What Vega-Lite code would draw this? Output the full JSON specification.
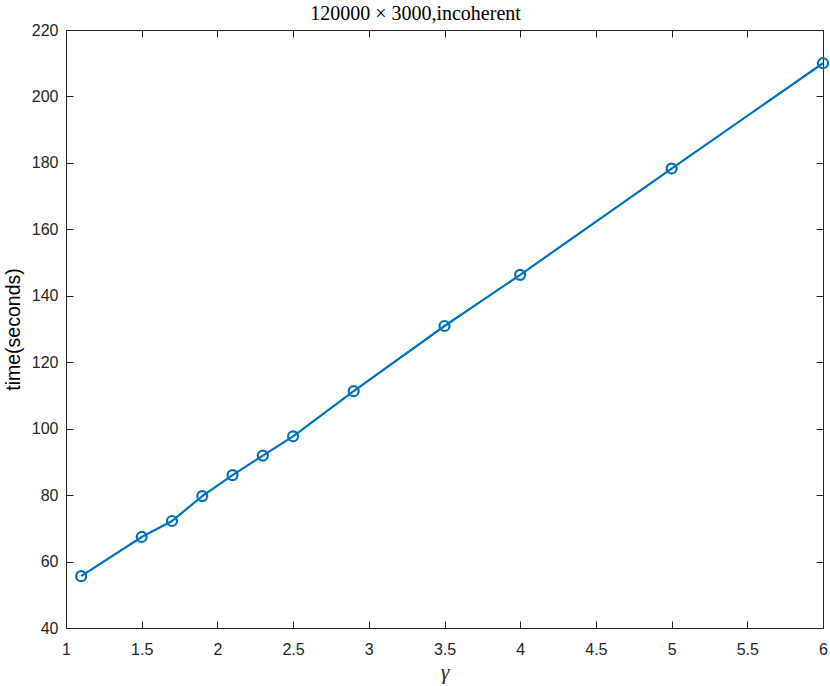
{
  "$schema": "https://vega.github.io/schema/vega-lite/v6.json",
  "width": 757,
  "height": 598,
  "autosize": {"type": "none"},
  "padding": {"left": 66, "top": 30, "right": 7, "bottom": 58},
  "background": "white",
  "title": {"text": "120000 × 3000,incoherent", "font": "Liberation Serif", "fontSize": 20, "fontWeight": "normal", "color": "#000000", "offset": -2, "anchor": "middle", "dx": -29},
  "config": {
    "view": {"stroke": "#262626", "strokeWidth": 1},
    "axis": {"grid": false, "domainColor": "#262626", "tickColor": "#262626", "labelColor": "#262626", "labelFont": "Liberation Sans", "labelFontSize": 16, "tickSize": -7, "domain": true, "labelFlush": false, "labelExpr": "datum.value + ''"}
  },
  "data": {"values": [
    {"g": 1.1, "t": 55.6},
    {"g": 1.5, "t": 67.4},
    {"g": 1.7, "t": 72.2},
    {"g": 1.9, "t": 79.7},
    {"g": 2.1, "t": 86.0},
    {"g": 2.3, "t": 91.9},
    {"g": 2.5, "t": 97.7},
    {"g": 2.9, "t": 111.3},
    {"g": 3.5, "t": 130.9},
    {"g": 4.0, "t": 146.3},
    {"g": 5.0, "t": 178.3},
    {"g": 6.0, "t": 210.0}
  ]},
  "layer": [
    {
      "mark": {"type": "line", "color": "#0072BD", "strokeWidth": 2.2, "point": {"shape": "circle", "filled": false, "size": 100, "strokeWidth": 2.2, "color": "#0072BD"}},
      "encoding": {
        "x": {"field": "g", "type": "quantitative", "scale": {"domain": [1, 6], "nice": false, "zero": false},
          "axis": {"orient": "bottom", "values": [1, 1.5, 2, 2.5, 3, 3.5, 4, 4.5, 5, 5.5, 6], "labelFlush": false, "labelExpr": "datum.value + ''", "labelPadding": 20, "title": "γ", "titleFont": "Liberation Serif", "titleFontStyle": "italic", "titleFontWeight": "normal", "titleFontSize": 22, "titleColor": "#262626", "titlePadding": 4}},
        "y": {"field": "t", "type": "quantitative", "scale": {"domain": [40, 220], "nice": false, "zero": false},
          "axis": {"orient": "left", "values": [40, 60, 80, 100, 120, 140, 160, 180, 200, 220], "labelFlush": false, "labelExpr": "datum.value + ''", "labelPadding": 15, "title": "time(seconds)", "titleFont": "Liberation Sans", "titleFontWeight": "normal", "titleFontSize": 19.5, "titleColor": "#000000", "titlePadding": 8}}
      }
    },
    {
      "mark": {"type": "point", "opacity": 0},
      "encoding": {
        "x": {"field": "g", "type": "quantitative", "scale": {"domain": [1, 6], "nice": false, "zero": false}, "axis": {"orient": "top", "values": [1, 1.5, 2, 2.5, 3, 3.5, 4, 4.5, 5, 5.5, 6], "labels": false, "title": null}},
        "y": {"field": "t", "type": "quantitative", "scale": {"domain": [40, 220], "nice": false, "zero": false}, "axis": {"orient": "right", "values": [40, 60, 80, 100, 120, 140, 160, 180, 200, 220], "labels": false, "title": null}}
      }
    }
  ],
  "resolve": {"axis": {"x": "independent", "y": "independent"}}
}
